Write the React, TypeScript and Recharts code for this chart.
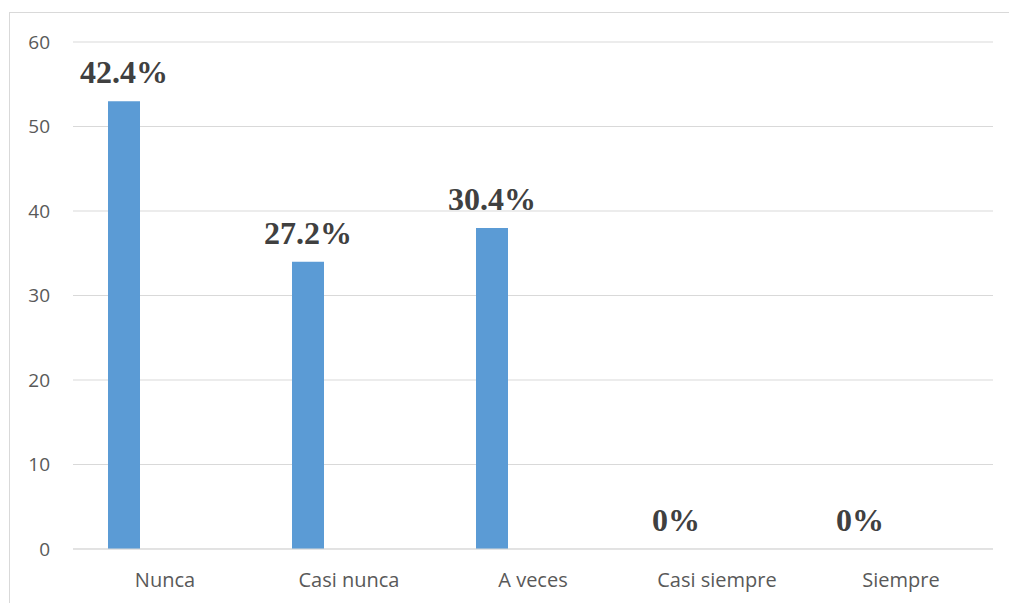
import { Bar, BarChart, CartesianGrid, LabelList, XAxis, YAxis } from "recharts";

const categories = ["Nunca", "Casi nunca", "A veces", "Casi siempre", "Siempre"];
const counts = [53, 34, 38, 0, 0];
const emptySeries = [0, 0, 0, 0, 0];
const percentLabels = ["42.4%", "27.2%", "30.4%", "0%", "0%"];
const yTicks = [0, 10, 20, 30, 40, 50, 60];

const data = categories.map((name, i) => ({
  name,
  count: counts[i],
  other: emptySeries[i],
  pct: percentLabels[i],
}));

type LabelProps = {
  x?: number;
  y?: number;
  width?: number;
  index?: number;
};

const PctLabel = ({ x = 0, y = 0, width = 0, index = 0 }: LabelProps) => (
  <text
    x={Number(x) + Number(width) / 2}
    y={Number(y) - 18}
    textAnchor="middle"
    fill="#404040"
    fontFamily="'Liberation Serif', 'Times New Roman', serif"
    fontWeight="bold"
    fontSize={32}
  >
    {percentLabels[index]}
  </text>
);

export default function App() {
  return (
    <div
      style={{
        position: "fixed",
        left: 0,
        top: 0,
        width: 1009,
        height: 603,
        overflow: "hidden",
        background: "#fff",
      }}
    >
      <div
        style={{
          position: "absolute",
          left: 9,
          top: 12,
          width: 1010,
          height: 600,
          borderLeft: "1px solid #d9d9d9",
          borderTop: "1px solid #d9d9d9",
        }}
      />
      <div style={{ position: "absolute", left: 0, top: 0 }}>
        <BarChart
          width={1009}
          height={603}
          data={data}
          margin={{ top: 42, right: 16, left: 0, bottom: 0 }}
          barGap={50}
          barSize={32}
        >
          <CartesianGrid vertical={false} stroke="#d9d9d9" />
          <XAxis
            dataKey="name"
            height={54}
            axisLine={{ stroke: "#d9d9d9" }}
            tickLine={false}
            tickSize={0}
            tickMargin={24}
            tick={{ fill: "#595959", fontSize: 20, fontFamily: "'Open Sans', sans-serif" }}
          />
          <YAxis
            width={73}
            domain={[0, 60]}
            ticks={yTicks}
            axisLine={false}
            tickLine={false}
            tickSize={0}
            tickMargin={23}
            tick={{ fill: "#595959", fontSize: 19, fontFamily: "'Open Sans', sans-serif" }}
          />
          <Bar dataKey="count" fill="#5b9bd5" minPointSize={0.01} isAnimationActive={false}>
            <LabelList dataKey="pct" content={<PctLabel />} />
          </Bar>
          <Bar dataKey="other" fill="transparent" isAnimationActive={false} />
        </BarChart>
      </div>
    </div>
  );
}
